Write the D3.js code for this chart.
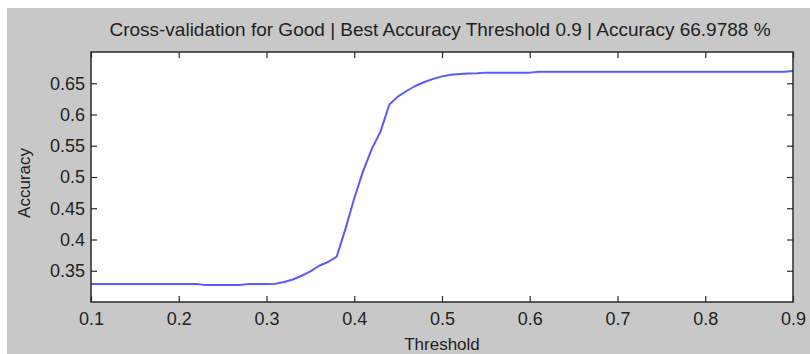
<!DOCTYPE html>
<html>
<head>
<meta charset="utf-8">
<script src="https://cdn.jsdelivr.net/npm/d3@7"></script>
<style>
  html, body { margin: 0; padding: 0; background: #ffffff; }
  svg { display: block; font-family: "Liberation Sans", Arial, sans-serif; }
</style>
</head>
<body>
<svg id="chart" width="810" height="354"></svg>
<script>
// Cross-validation sweep: accuracy at each decision threshold
const thresholds = d3.range(81).map(i => +(0.10 + i * 0.01).toFixed(2));
const accuracy = [
  0.3290, 0.3290, 0.3290, 0.3290, 0.3290, 0.3290, 0.3290, 0.3290, 0.3290, 0.3290, // 0.10-0.19
  0.3290, 0.3290, 0.3290, 0.3272, 0.3272, 0.3272, 0.3272, 0.3272, 0.3290, 0.3290, // 0.20-0.29
  0.3290, 0.3292, 0.3320, 0.3360, 0.3420, 0.3490, 0.3580, 0.3640, 0.3725, 0.4170, // 0.30-0.39
  0.4660, 0.5090, 0.5450, 0.5730, 0.6160, 0.6290, 0.6380, 0.6460, 0.6520, 0.6570, // 0.40-0.49
  0.6610, 0.6635, 0.6648, 0.6655, 0.6660, 0.6670, 0.6670, 0.6670, 0.6670, 0.6670, // 0.50-0.59
  0.6670, 0.6685, 0.6685, 0.6685, 0.6685, 0.6685, 0.6685, 0.6685, 0.6685, 0.6685, // 0.60-0.69
  0.6685, 0.6685, 0.6685, 0.6685, 0.6685, 0.6685, 0.6685, 0.6685, 0.6685, 0.6685, // 0.70-0.79
  0.6685, 0.6685, 0.6685, 0.6685, 0.6685, 0.6685, 0.6685, 0.6685, 0.6685, 0.6685, // 0.80-0.89
  0.669788                                                                        // 0.90
];
const xTicks = [0.1, 0.2, 0.3, 0.4, 0.5, 0.6, 0.7, 0.8, 0.9];
const yTicks = [0.35, 0.4, 0.45, 0.5, 0.55, 0.6, 0.65];
const titleText = "Cross-validation for Good | Best Accuracy Threshold 0.9 | Accuracy 66.9788 %";

const svg = d3.select("#chart");
const W = 810, H = 354;
const plot = { left: 91, right: 793, top: 52, bottom: 302 };

// figure background
svg.append("rect").attr("x", 7).attr("y", 8).attr("width", W - 7).attr("height", H - 8)
  .attr("fill", "#c8c8c8");

const x = d3.scaleLinear().domain([0.1, 0.9]).range([plot.left, plot.right]);
const y = d3.scaleLinear().domain([0.3, 0.7]).range([plot.bottom, plot.top]);

// axes area
svg.append("rect").attr("x", plot.left).attr("y", plot.top)
  .attr("width", plot.right - plot.left).attr("height", plot.bottom - plot.top)
  .attr("fill", "#ffffff");

const tickLen = 6;
const fmt = d => String(d);

// bottom and left axes with inward ticks
const axBottom = svg.append("g").attr("transform", `translate(0,${plot.bottom})`)
  .call(d3.axisBottom(x).tickValues(xTicks).tickFormat(fmt).tickSizeInner(-tickLen).tickSizeOuter(0).tickPadding(10));
const axLeft = svg.append("g").attr("transform", `translate(${plot.left},0)`)
  .call(d3.axisLeft(y).tickValues(yTicks).tickFormat(fmt).tickSizeInner(-tickLen).tickSizeOuter(0).tickPadding(6));
// top and right axes: ticks only
const axTop = svg.append("g").attr("transform", `translate(0,${plot.top})`)
  .call(d3.axisTop(x).tickValues(xTicks).tickFormat("").tickSizeInner(-tickLen).tickSizeOuter(0));
const axRight = svg.append("g").attr("transform", `translate(${plot.right},0)`)
  .call(d3.axisRight(y).tickValues(yTicks).tickFormat("").tickSizeInner(-tickLen).tickSizeOuter(0));

[axBottom, axLeft, axTop, axRight].forEach(g => {
  g.select(".domain").remove();
  g.selectAll(".tick line").attr("stroke", "#2a2a2a").attr("stroke-width", 1.2);
  g.selectAll("text").attr("fill", "#222").attr("font-size", 18)
    .attr("font-family", "'Liberation Sans', Arial, sans-serif");
});

// accuracy curve
const line = d3.line().x((d, i) => x(thresholds[i])).y(d => y(d));
svg.append("path").datum(accuracy)
  .attr("d", line)
  .attr("fill", "none")
  .attr("stroke", "#5a5aff")
  .attr("stroke-width", 2)
  .attr("stroke-linejoin", "round");

// axes box
svg.append("rect").attr("x", plot.left).attr("y", plot.top)
  .attr("width", plot.right - plot.left).attr("height", plot.bottom - plot.top)
  .attr("fill", "none").attr("stroke", "#2a2a2a").attr("stroke-width", 1.5);

// title and labels
svg.append("text").attr("x", 440).attr("y", 36)
  .attr("text-anchor", "middle").attr("font-size", 19).attr("fill", "#222")
  .text(titleText);

svg.append("text").attr("x", (plot.left + plot.right) / 2).attr("y", 350)
  .attr("text-anchor", "middle").attr("font-size", 17).attr("fill", "#222")
  .text("Threshold");

svg.append("text")
  .attr("transform", `translate(30,183) rotate(-90)`)
  .attr("text-anchor", "middle").attr("font-size", 17).attr("fill", "#222")
  .text("Accuracy");
</script>
</body>
</html>
